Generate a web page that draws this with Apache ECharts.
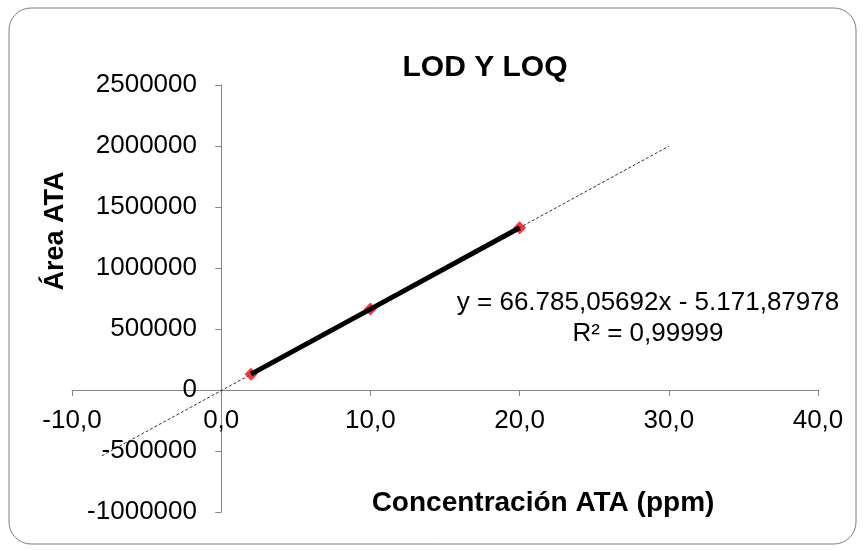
<!DOCTYPE html>
<html>
<head>
<meta charset="utf-8">
<script src="https://cdn.jsdelivr.net/npm/echarts@6/dist/echarts.min.js"></script>
<style>
  html, body { margin: 0; padding: 0; background: #fff; }
  #chart { width: 864px; height: 550px; }
</style>
</head>
<body>
<div id="chart"></div>
<script>
// concentration (ppm) and measured area
var concentracion = [2, 10, 20];
var area = [130000, 663000, 1330000];
// linear trendline end points (x -8 .. 30)
var trendX = [-8, 30];
var trendY = [-539452, 1998380];

var xTicks = { min: -10, max: 40, interval: 10 };
var yTicks = { min: -1000000, max: 2500000, interval: 500000 };

var pts = concentracion.map(function (x, i) { return [x, area[i]]; });
var trend = trendX.map(function (x, i) { return [x, trendY[i]]; });

var font = "'Liberation Sans', Arial, sans-serif";
var axisColor = "#868686";

var chart = echarts.init(document.getElementById("chart"));
chart.setOption({
  backgroundColor: "#fff",
  animation: false,
  title: {
    text: "LOD Y LOQ",
    left: 480,
    top: 48,
    textAlign: "center",
    textStyle: { fontFamily: font, fontSize: 30, fontWeight: "bold", color: "#000" }
  },
  grid: { left: 72, right: 46, top: 85, bottom: 38, containLabel: false, outerBoundsMode: "none" },
  xAxis: {
    type: "value",
    min: xTicks.min,
    max: xTicks.max,
    interval: xTicks.interval,
    axisLine: { onZero: true, lineStyle: { color: axisColor, width: 1 } },
    axisTick: { show: true, length: 6, lineStyle: { color: axisColor } },
    splitLine: { show: false },
    axisLabel: {
      // labels stay at grid edge, pull them up under the zero line
      margin: -104,
      fontFamily: font,
      fontSize: 26,
      color: "#000",
      hideOverlap: false,
      formatter: function (v) { return v.toFixed(1).replace(".", ","); }
    }
  },
  yAxis: {
    type: "value",
    min: yTicks.min,
    max: yTicks.max,
    interval: yTicks.interval,
    axisLine: { show: true, onZero: true, lineStyle: { color: axisColor, width: 1 } },
    axisTick: { show: true, length: 6, lineStyle: { color: axisColor } },
    splitLine: { show: false },
    axisLabel: {
      margin: -125,
      fontFamily: font,
      fontSize: 26,
      color: "#000",
      hideOverlap: false,
      formatter: function (v) { return String(v); }
    }
  },
  graphic: [
    {
      type: "rect",
      shape: { x: 9, y: 8, width: 847, height: 536, r: 22 },
      style: { fill: null, stroke: "#7f7f7f", lineWidth: 1 },
      silent: true
    },
    {
      type: "text",
      x: 56,
      y: 231,
      rotation: Math.PI / 2,
      style: {
        text: "Área ATA",
        fontFamily: font, fontSize: 27, fontWeight: "bold", fill: "#000",
        align: "center", verticalAlign: "middle"
      }
    },
    {
      type: "text",
      x: 543,
      y: 503,
      style: {
        text: "Concentración ATA (ppm)",
        fontFamily: font, fontSize: 28, fontWeight: "bold", fill: "#000",
        align: "center", verticalAlign: "middle"
      }
    },
    {
      type: "text",
      x: 648,
      y: 318,
      style: {
        text: "y = 66.785,05692x - 5.171,87978\nR² = 0,99999",
        fontFamily: font, fontSize: 26, fill: "#000", lineHeight: 31,
        align: "center", verticalAlign: "middle"
      }
    }
  ],
  series: [
    {
      type: "line",
      data: trend,
      showSymbol: false,
      z: 1,
      lineStyle: { color: "#000", width: 0.8, type: [3, 2] }
    },
    {
      type: "scatter",
      data: pts,
      symbol: "diamond",
      symbolSize: 13,
      z: 2,
      itemStyle: { color: "#ff0000" }
    },
    {
      type: "line",
      data: pts,
      showSymbol: false,
      z: 3,
      lineStyle: { color: "#000", width: 5 }
    }
  ]
});
</script>
</body>
</html>
